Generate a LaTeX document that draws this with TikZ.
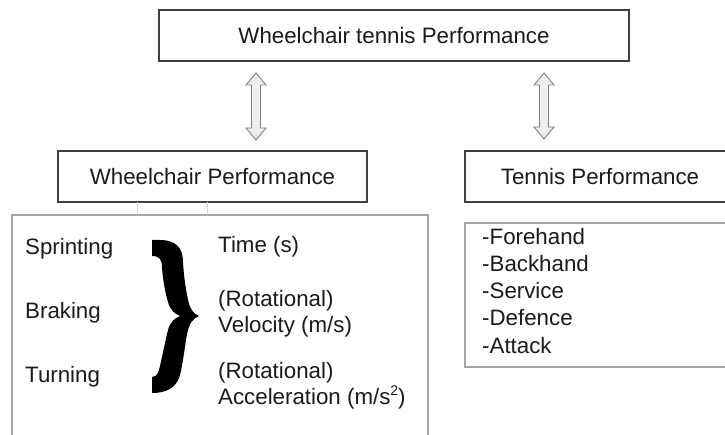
\documentclass[tikz,border=0pt]{standalone}
\usepackage{fontspec}
\setmainfont{Liberation Sans}
\usetikzlibrary{calc}
\definecolor{boxline}{HTML}{404040}
\definecolor{lightline}{HTML}{A6A6A6}
\definecolor{txt}{HTML}{1A1A1A}
\definecolor{arrfill}{HTML}{EEEEEE}
\definecolor{arrline}{HTML}{7F7F7F}

% double-headed block arrow between two named tips (#1 top, #2 bottom)
\newcommand\dblarrow[2]{%
  \draw[blockarrow] (#1) -- ($(#1)+(10,12)$) -- ($(#1)+(4.5,12)$)
    -- ($(#2)+(4.5,-12)$) -- ($(#2)+(10,-12)$) -- (#2)
    -- ($(#2)+(-10,-12)$) -- ($(#2)+(-4.5,-12)$)
    -- ($(#1)+(-4.5,12)$) -- ($(#1)+(-10,12)$) -- cycle;}

\begin{document}
\begin{tikzpicture}[x=1pt,y=-1pt,
  every node/.style={font=\fontsize{22.3}{26}\selectfont, text=txt},
  headbox/.style={draw=boxline, line width=1.3pt, inner sep=0pt,
    minimum height=51pt, text height=16pt, text depth=0pt},
  framebox/.style={draw=lightline, line width=1.2pt, inner sep=0pt},
  entry/.style={anchor=base west, inner sep=0pt},
  blockarrow/.style={draw=arrline, fill=arrfill, line width=0.9pt, line join=miter}
]
\useasboundingbox (0,0) rectangle (725,435);
\begin{scope}
\clip (0,0) rectangle (725,435);

% heading boxes
\node[headbox, minimum width=470pt] (wtp) at (394,35.5) {Wheelchair tennis Performance};
\node[headbox, minimum width=309pt] (wp) at (212.5,176.5) {Wheelchair Performance};
\node[headbox, minimum width=270pt] (tp) at (600,176.5) {Tennis Performance};

% content frames
\node[framebox, minimum width=416pt, minimum height=232pt] (wpbody) at (220,331) {};
\node[framebox, minimum width=270pt, minimum height=144pt] (tpbody) at (600,295) {};

% faint cell rules between the heading and the frame
\draw[gray!35, line width=0.8pt] (137,202) -- (137,215);
\draw[gray!35, line width=0.8pt] (207,202) -- (207,215);

% block arrows
\coordinate (la1) at (256,73);
\coordinate (la2) at (256,140);
\coordinate (ra1) at (544,73);
\coordinate (ra2) at (544,139);
\dblarrow{la1}{la2}
\dblarrow{ra1}{ra2}

% wheelchair skills
\node[entry] (spr) at (25,255) {Sprinting};
\node[entry] (brk) at (25,319) {Braking};
\node[entry] (trn) at (25,382) {Turning};

% big curly brace
\fill[black]
  (152,240) -- (160,240) .. controls (176,240) and (183,248) .. (183,262)
  .. controls (184,280) and (187,296) .. (189,304)
  .. controls (191,310) and (194,314) .. (199,316)
  .. controls (193,318) and (189,324) .. (187,334)
  .. controls (184,352) and (182,370) .. (179,378)
  .. controls (175,388) and (166,393) .. (152,393)
  -- (152,377)
  .. controls (155,377) and (157,376) .. (159,370)
  .. controls (162,358) and (165,342) .. (168,330)
  .. controls (170,322) and (175,318) .. (180,316)
  .. controls (175,314) and (170,310) .. (168,302)
  .. controls (165,292) and (163,280) .. (162,268)
  .. controls (162,260) and (160,256) .. (152,256) -- cycle;

% measures
\node[entry] (tim) at (218,253) {Time (s)};
\node[entry] (rv1) at (218,307) {(Rotational)};
\node[entry] (vel) at (218,333) {Velocity (m/s)};
\node[entry] (rv2) at (218,378) {(Rotational)};
\node[entry] (acc) at (218,404) {Acceleration (m/s{\fontsize{14}{14}\selectfont\raisebox{8.5pt}{2}})};

% tennis skills
\node[entry] (fh) at (482,245) {-Forehand};
\node[entry] (bh) at (482,272) {-Backhand};
\node[entry] (sv) at (482,299) {-Service};
\node[entry] (df) at (482,326) {-Defence};
\node[entry] (at) at (482,353) {-Attack};
\end{scope}
\end{tikzpicture}
\end{document}
